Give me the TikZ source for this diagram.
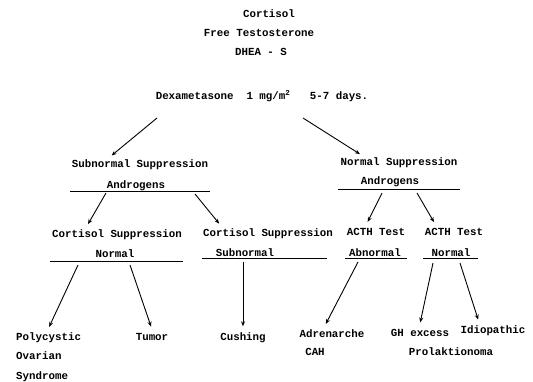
\documentclass[tikz,border=0pt]{standalone}
\usepackage{fontspec}
\setmonofont{Liberation Mono}
\usetikzlibrary{arrows.meta}
\newcommand{\txtfont}{\ttfamily\bfseries\fontsize{10.8}{13}\selectfont}
\newcommand{\rulewd}{0.9pt}

\begin{document}
\begin{tikzpicture}[x=1pt, y=-1pt, >={Stealth[length=5pt, width=4pt]},
    lbl/.style={font=\txtfont, inner sep=1pt, text height=7pt, text depth=2pt},
    arr/.style={->, line width=\rulewd, shorten >=6pt},
    rule/.style={line width=\rulewd}]
    \useasboundingbox (0,0) rectangle (533,381);

    % header
    \node [lbl] (cort) at (269,15) {Cortisol};
    \node [lbl] (freet) at (259,34) {Free Testosterone};
    \node [lbl] (dhea) at (261,53) {DHEA - S};
    \node [lbl] (dexa) at (262,97) {Dexametasone~~1 mg/m\textsuperscript{2}~~~5-7 days.};

    % second level
    \node [lbl] (subsup) at (140,165) {Subnormal Suppression};
    \node [lbl] (andL) at (136,186) {Androgens};
    \node [lbl] (normsup) at (399,163) {Normal Suppression};
    \node [lbl] (andR) at (390,182) {Androgens};

    % third level
    \node [lbl] (corsupL) at (117,235) {Cortisol Suppression};
    \node [lbl] (normL) at (115,255) {Normal};
    \node [lbl] (corsupR) at (268,234) {Cortisol Suppression};
    \node [lbl] (subnR) at (245,254) {Subnormal};
    \node [lbl] (acthA) at (376,233) {ACTH Test};
    \node [lbl] (abnorm) at (375,254) {Abnormal};
    \node [lbl] (acthN) at (454,233) {ACTH Test};
    \node [lbl] (normN) at (451,254) {Normal};

    % diagnoses
    \node [lbl, anchor=west] (poly) at (15,338) {Polycystic};
    \node [lbl, anchor=west] (ovar) at (15,357) {Ovarian};
    \node [lbl, anchor=west] (synd) at (15,377) {Syndrome};
    \node [lbl] (tumor) at (152,338) {Tumor};
    \node [lbl] (cush) at (243,338) {Cushing};
    \node [lbl] (adren) at (332,335) {Adrenarche};
    \node [lbl] (cah) at (315,353) {CAH};
    \node [lbl] (ghex) at (420,334) {GH excess};
    \node [lbl] (idio) at (493,331) {Idiopathic};
    \node [lbl] (prol) at (451,353) {Prolaktionoma};

    % underlines
    \draw [rule] (70,191) -- (210,191);
    \draw [rule] (338,189) -- (460,189);
    \draw [rule] (50,261) -- (183,261);
    \draw [rule] (202,258) -- (327,258);
    \draw [rule] (345,258) -- (407,258);
    \draw [rule] (423,258) -- (478,258);

    % arrow starts
    \coordinate (d1) at (157,118);
    \coordinate (d2) at (303,118);
    \coordinate (a1) at (106,193);
    \coordinate (a2) at (195,194);
    \coordinate (b1) at (382,193);
    \coordinate (b2) at (417,193);
    \coordinate (n1) at (78,265);
    \coordinate (n2) at (130,265);
    \coordinate (s1) at (243,262);
    \coordinate (ab1) at (358,262);
    \coordinate (nr1) at (433,263);
    \coordinate (nr2) at (460,263);

    % arrows
    \draw [arr] (d1) -- ([xshift=-33pt]subsup.north);
    \draw [arr] (d2) -- ([xshift=-34pt]normsup.north);
    \draw [arr] (a1) -- ([xshift=-32pt]corsupL.north);
    \draw [arr] (a2) -- ([xshift=-45pt]corsupR.north);
    \draw [arr] (b1) -- ([xshift=-11pt]acthA.north);
    \draw [arr] (b2) -- ([xshift=-17pt]acthN.north);
    \draw [arr] (n1) -- ([xshift=-2pt]poly.north);
    \draw [arr] (n2) -- ([xshift=1pt]tumor.north);
    \draw [arr] (s1) -- (cush.north);
    \draw [arr] (ab1) -- ([xshift=-9pt]adren.north);
    \draw [arr] (nr1) -- ([xshift=-1pt]ghex.north);
    \draw [arr] (nr2) -- ([xshift=-13pt]idio.north);
\end{tikzpicture}
\end{document}
